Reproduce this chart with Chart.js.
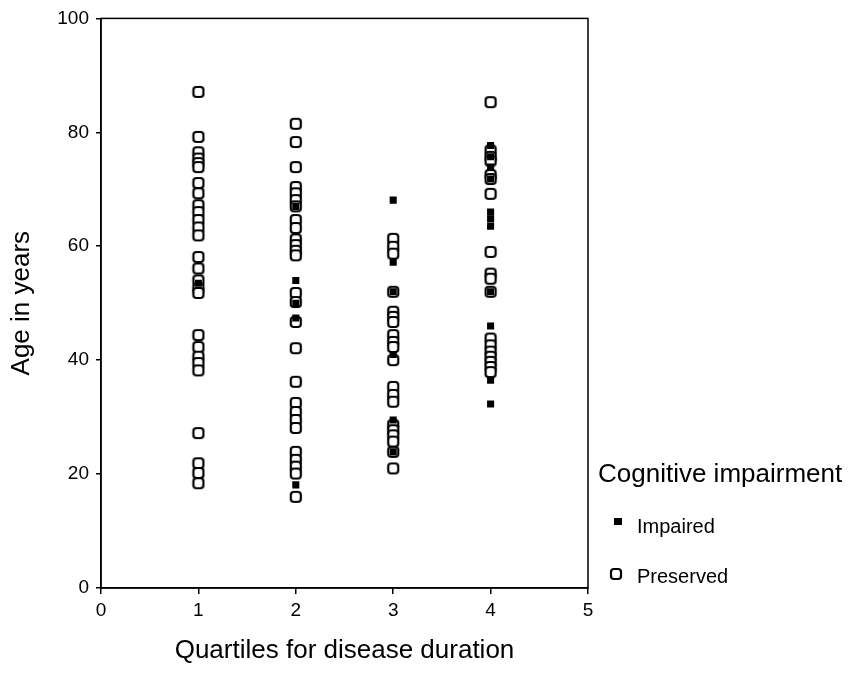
<!DOCTYPE html>
<html>
<head>
<meta charset="utf-8">
<script src="https://cdn.jsdelivr.net/npm/chart.js@4/dist/chart.umd.min.js"></script>
<style>
    html, body { margin: 0; padding: 0; background: #ffffff; }
    #wrap { position: relative; width: 848px; height: 684px; }
</style>
</head>
<body>
<div id="wrap"><canvas id="chart" width="848" height="684"></canvas></div>
<script>
// Ages, one array per quartile of disease duration
let impairedQ1 = [53.5];
let impairedQ2 = [67, 54, 50, 47.4, 18.1];
let impairedQ3 = [68.1, 57.2, 52, 41, 29.5, 23.9];
let impairedQ4 = [77.7, 75.7, 73.9, 71.8, 66, 64.8, 63.5, 52, 46, 36.5, 32.3];

let preservedQ1 = [87.1, 79.2, 76.5, 75.4, 74.6, 73.9, 71.1, 69.3, 67.2, 66, 64.6, 63.3, 61.9, 58.1, 56.1, 54, 52.6, 51.8, 44.4, 42.3, 40.6, 39.5, 38.2, 27.2, 21.9, 20.2, 18.4];
let preservedQ2 = [81.5, 78.3, 73.9, 70.4, 69.3, 68.1, 67, 64.6, 63.2, 61.2, 60.2, 59.2, 58.4, 51.8, 50.2, 46.7, 42.1, 36.2, 32.5, 30.9, 29.5, 28.1, 23.9, 22.5, 21.3, 20.1, 16];
let preservedQ3 = [61.3, 59.9, 58.7, 52, 48.5, 47.6, 46.7, 44.4, 43.2, 42.3, 40, 35.3, 33.9, 32.7, 28.6, 27.7, 26.8, 25.7, 23.9, 21];
let preservedQ4 = [85.3, 76.8, 75.7, 75, 72.5, 71.8, 69.2, 59, 55.2, 54.3, 52, 43.8, 42.6, 41.5, 40.6, 39.7, 38.8, 37.9];

let quartiles = [1, 2, 3, 4];
let seriesLabels = ['Impaired', 'Preserved'];
let legendTitle = 'Cognitive impairment';
let xTicks = [0, 1, 2, 3, 4, 5];
let yTicks = [0, 20, 40, 60, 80, 100];

const FONT = 'Liberation Sans, Arial, Helvetica, sans-serif';

function toPoints(groups) {
    let points = [];
    groups.forEach((ages, i) => {
        ages.forEach(age => points.push({ x: quartiles[i], y: age }));
    });
    return points;
}

// open rounded box used for "Preserved"
function makeOpenBox() {
    let c = document.createElement('canvas');
    c.width = 14;
    c.height = 14;
    let g = c.getContext('2d');
    g.fillStyle = '#ffffff';
    g.strokeStyle = '#000000';
    g.lineWidth = 2.2;
    g.beginPath();
    g.roundRect(2, 2, 10, 10, 3);
    g.fill();
    g.stroke();
    return c;
}

let openBox = makeOpenBox();

let frameAndLegend = {
    id: 'frameAndLegend',
    afterDraw(chart) {
        let ctx = chart.ctx;
        let a = chart.chartArea;
        ctx.save();
        ctx.strokeStyle = '#000000';
        ctx.lineWidth = 1.5;
        ctx.strokeRect(a.left, a.top, a.right - a.left, a.bottom - a.top);

        ctx.fillStyle = '#000000';
        ctx.textBaseline = 'alphabetic';
        ctx.textAlign = 'left';
        ctx.font = '26px ' + FONT;
        ctx.fillText(legendTitle, 598, 482);

        ctx.font = '20px ' + FONT;
        ctx.fillRect(614, 518, 8, 7);
        ctx.fillText(seriesLabels[0], 637, 533);

        ctx.drawImage(openBox, 609, 567);
        ctx.fillText(seriesLabels[1], 637, 583);
        ctx.restore();
    }
};

new Chart(document.getElementById('chart'), {
    type: 'scatter',
    data: {
        datasets: [
            {
                label: seriesLabels[0],
                data: toPoints([impairedQ1, impairedQ2, impairedQ3, impairedQ4]),
                pointStyle: 'rect',
                pointRadius: 5,
                backgroundColor: '#000000',
                borderColor: '#000000',
                borderWidth: 0
            },
            {
                label: seriesLabels[1],
                data: toPoints([preservedQ1, preservedQ2, preservedQ3, preservedQ4]),
                pointStyle: openBox,
                pointRadius: 7
            }
        ]
    },
    plugins: [frameAndLegend],
    options: {
        responsive: false,
        animation: false,
        layout: {
            padding: { left: 0, top: 18, right: 260, bottom: 0 }
        },
        plugins: {
            legend: { display: false },
            tooltip: { enabled: false }
        },
        scales: {
            x: {
                type: 'linear',
                min: 0,
                max: 5,
                afterFit: s => { s.height = 96; },
                afterBuildTicks: s => { s.ticks = xTicks.map(v => ({ value: v })); },
                ticks: {
                    color: '#000000',
                    font: { family: FONT, size: 19 },
                    padding: 5
                },
                grid: {
                    drawOnChartArea: false,
                    drawTicks: true,
                    tickLength: 6,
                    color: '#000000',
                    lineWidth: 1.5
                },
                border: { display: true, color: '#000000', width: 1.5 },
                title: {
                    display: true,
                    text: 'Quartiles for disease duration',
                    color: '#000000',
                    font: { family: FONT, size: 26 },
                    padding: { top: 0, bottom: 18 }
                }
            },
            y: {
                type: 'linear',
                min: 0,
                max: 100,
                afterFit: s => { s.width = 101; },
                afterBuildTicks: s => { s.ticks = yTicks.map(v => ({ value: v })); },
                ticks: {
                    color: '#000000',
                    font: { family: FONT, size: 19 },
                    padding: 7
                },
                grid: {
                    drawOnChartArea: false,
                    drawTicks: true,
                    tickLength: 5,
                    color: '#000000',
                    lineWidth: 1.5
                },
                border: { display: true, color: '#000000', width: 1.5 },
                title: {
                    display: true,
                    text: 'Age in years',
                    color: '#000000',
                    font: { family: FONT, size: 26 },
                    padding: { top: 6, bottom: 0 }
                }
            }
        }
    }
});
</script>
</body>
</html>
